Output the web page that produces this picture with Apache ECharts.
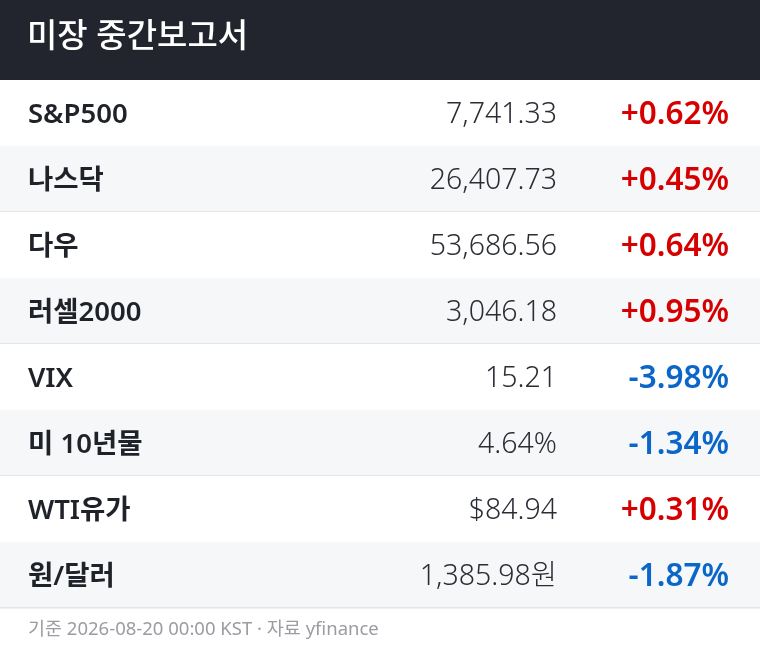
<!DOCTYPE html>
<html><head><meta charset="utf-8">
<script src="https://cdn.jsdelivr.net/npm/echarts@6/dist/echarts.min.js"></script>
<style>html,body{margin:0;padding:0;background:#fff}#c{width:760px;height:652px}</style>
</head><body><div id="c"></div>
<script>
const TITLE = '미장 중간보고서';
const FOOTER = '기준 2026-08-20 00:00 KST · 자료 yfinance';
const names = ['S&P500', '나스닥', '다우', '러셀2000', 'VIX', '미 10년물', 'WTI유가', '원/달러'];
const prices = ['7,741.33', '26,407.73', '53,686.56', '3,046.18', '15.21', '4.64%', '$84.94', '1,385.98원'];
const changes = [0.62, 0.45, 0.64, 0.95, -3.98, -1.34, 0.31, -1.87];

const FONT = '"Noto Sans", "Noto Sans CJK KR", sans-serif';
const chart = echarts.init(document.getElementById('c'), null, {renderer: 'canvas'});

function fmtChange(v) { return (v >= 0 ? '+' : '') + v.toFixed(2) + '%'; }

chart.setOption({
  animation: false,
  backgroundColor: '#ffffff',
  grid: {left: 0, right: 0, top: 80, bottom: 44},
  xAxis: {type: 'value', min: 0, max: 760, show: false},
  yAxis: {type: 'category', data: names, inverse: true, show: false},
  graphic: [
    {type: 'rect', shape: {x: 0, y: 0, width: 760, height: 80}, style: {fill: '#22252d'}, z: 10},
    {type: 'text', left: 27, top: 21, style: {text: TITLE, fill: '#ffffff', font: '500 33px ' + FONT}, z: 11},
    {type: 'text', left: 28, top: 620, style: {text: FOOTER, fill: '#9a9ca1', font: '400 18.5px ' + FONT}, z: 11}
  ],
  series: [{
    type: 'custom',
    data: names.map((n, i) => [0, i]),
    renderItem: function (params, api) {
      const i = api.value(1);
      const c = api.coord([0, i]);
      const h = api.size([0, 1])[1];
      const x0 = api.coord([0, i])[0];
      const x1 = api.coord([760, i])[0];
      const top = c[1] - h / 2;
      const ty = c[1] + 2;
      const even = i % 2 === 1;
      const children = [
        {type: 'rect', shape: {x: x0, y: top, width: x1 - x0, height: h}, style: {fill: even ? '#f6f7f9' : '#ffffff'}},
        {type: 'text', x: api.coord([28, i])[0], y: ty, style: {text: names[i], fill: '#1f2228', font: '600 27.5px ' + FONT, textAlign: 'left', textVerticalAlign: 'middle'}},
        {type: 'text', x: api.coord([557, i])[0], y: ty, style: {text: prices[i], fill: '#2a2d33', font: '300 28.5px ' + FONT, textAlign: 'right', textVerticalAlign: 'middle'}},
        {type: 'text', x: api.coord([729, i])[0], y: ty, style: {text: fmtChange(changes[i]), fill: changes[i] >= 0 ? '#d60000' : '#0a66c8', font: '600 31.5px ' + FONT, textAlign: 'right', textVerticalAlign: 'middle'}}
      ];
      if (even) {
        children.push({type: 'rect', shape: {x: x0, y: top + h - 1, width: x1 - x0, height: 1.5}, style: {fill: '#e3e5e8'}});
      }
      return {type: 'group', children: children};
    }
  }]
});
</script></body></html>
